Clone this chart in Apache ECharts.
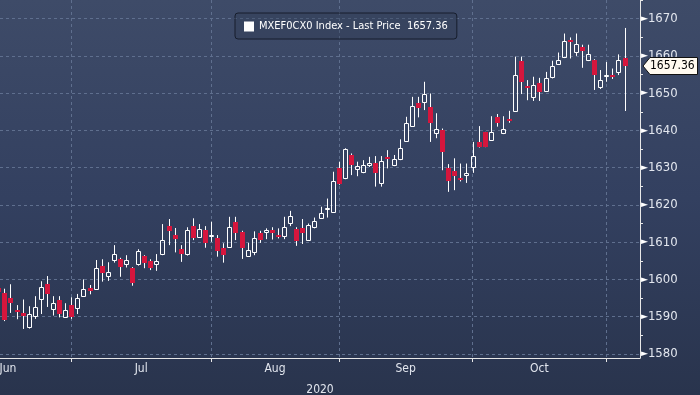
<!DOCTYPE html>
<html>
<head>
<meta charset="utf-8">
<script src="https://cdn.jsdelivr.net/npm/echarts@6/dist/echarts.min.js"></script>
<style>
html,body{margin:0;padding:0;}
#c{width:700px;height:395px;background:linear-gradient(to bottom,#3e4b68 0%,#334060 50%,#29344d 100%);}
</style>
</head>
<body>
<div id="c"></div>
<script>
// Month labels and the candle index where each month boundary falls (last trading day of month)
const monthLabels = ['Jun', 'Jul', 'Aug', 'Sep', 'Oct'];
const monthLabelPos = [1.6, 23.5, 45.5, 67, 89];
const monthBoundaryIdx = [12, 35, 56, 78, 100];
const yTicks = [1580, 1590, 1600, 1610, 1620, 1630, 1640, 1650, 1660, 1670];
const yMinorTicks = [1585, 1595, 1605, 1615, 1625, 1635, 1645, 1655, 1665, 1675];
const seriesName = 'MXEF0CX0 Index - Last Price';

const open = [1597.8,1596.4,1594.9,1591.9,1591.0,1587.3,1590.1,1594.8,1598.7,1592.0,
  1594.4,1590.0,1593.1,1592.3,1595.5,1597.6,1597.4,1603.6,1601.0,1605.2,
  1605.4,1604.1,1603.0,1604.1,1606.3,1604.9,1604.1,1606.8,1614.4,1612.0,
  1608.1,1606.7,1614.4,1611.4,1613.2,1611.8,1611.2,1608.5,1608.75,1615.4,
  1612.6,1606.25,1607.25,1612.4,1612.6,1613.2,1611.9,1611.7,1615.2,1613.6,
  1613.7,1610.7,1614.0,1616.6,1618.8,1618.15,1629.8,1627.2,1633.4,1629.6,
  1628.9,1630.7,1631.3,1625.9,1632.9,1630.7,1632.2,1637.2,1641.2,1647.4,
  1647.7,1646.3,1639.35,1640.1,1629.8,1629.15,1627.1,1628.0,1630.2,1636.9,
  1639.5,1637.4,1643.65,1639.2,1643.0,1645.25,1658.7,1651.9,1649.0,1652.7,
  1650.65,1654.3,1657.8,1659.6,1664.2,1661.1,1662.3,1658.8,1658.9,1651.7,
  1654.75,1655.0,1655.7,1659.3];
const close = [1596.6,1589.2,1593.6,1591.5,1590.2,1590.7,1592.5,1597.9,1596.1,1593.7,
  1590.7,1591.9,1589.8,1595.0,1597.3,1596.9,1603.0,1601.8,1602.0,1606.8,
  1603.4,1605.2,1599.1,1607.7,1604.3,1603.1,1604.9,1610.55,1613.05,1610.8,
  1606.8,1613.2,1611.2,1613.4,1609.7,1612.0,1607.7,1606.6,1614.0,1612.35,
  1608.5,1607.9,1611.0,1610.55,1613.2,1612.35,1611.3,1614.0,1617.0,1610.3,
  1612.35,1614.6,1615.7,1617.9,1619.2,1626.5,1625.6,1634.9,1630.7,1630.5,
  1630.7,1631.3,1628.6,1631.8,1632.2,1632.4,1635.4,1642.1,1646.5,1645.9,
  1649.75,1641.9,1640.35,1634.25,1626.5,1627.8,1626.8,1628.5,1633.1,1635.55,
  1635.6,1639.6,1642.05,1640.35,1642.6,1655.0,1652.95,1651.3,1652.2,1650.4,
  1653.95,1657.2,1658.9,1664.0,1663.7,1663.3,1661.4,1660.4,1654.8,1653.5,
  1655.0,1654.2,1658.9,1657.36];
const low = [1595.5,1588.8,1591.0,1589.3,1586.7,1586.8,1589.4,1590.7,1592.6,1590.3,
  1589.8,1589.8,1589.4,1590.7,1595.3,1596.0,1597.2,1599.4,1599.6,1604.5,
  1600.7,1603.2,1598.3,1603.7,1603.0,1602.5,1602.3,1606.5,1609.2,1607.25,
  1604.7,1606.4,1610.55,1611.2,1608.5,1610.1,1606.1,1604.5,1608.6,1610.55,
  1605.5,1606.1,1606.5,1609.8,1610.8,1610.7,1611.0,1610.8,1614.3,1609.0,
  1609.5,1610.6,1613.7,1616.5,1616.6,1617.9,1625.4,1626.9,1628.0,1627.7,
  1628.5,1630.2,1624.9,1624.9,1629.8,1630.4,1632.0,1637.0,1641.0,1643.5,
  1645.45,1636.9,1637.9,1629.3,1623.5,1623.95,1626.3,1625.9,1628.6,1635.4,
  1635.5,1637.3,1641.0,1639.0,1642.05,1645.0,1649.75,1648.1,1647.9,1647.9,
  1650.4,1653.95,1657.7,1659.4,1659.3,1660.0,1656.8,1658.6,1650.85,1651.1,
  1653.05,1653.8,1654.85,1645.2];
const high = [1598.5,1597.5,1598.7,1593.1,1594.6,1592.8,1595.5,1599.5,1600.9,1595.5,
  1595.5,1593.6,1595.2,1596.1,1600.0,1598.5,1605.2,1605.4,1604.6,1609.2,
  1605.8,1606.5,1603.3,1608.1,1606.5,1605.4,1606.8,1614.85,1616.2,1613.8,
  1609.2,1614.0,1616.4,1614.85,1614.3,1615.5,1611.9,1609.7,1616.8,1616.8,
  1613.05,1609.8,1612.9,1613.05,1613.7,1614.0,1613.7,1616.8,1618.4,1614.0,
  1616.2,1615.0,1616.6,1619.5,1621.7,1628.9,1631.6,1635.2,1633.8,1631.6,
  1632.0,1632.9,1633.1,1633.1,1634.7,1633.4,1637.6,1643.65,1649.0,1649.0,
  1653.05,1649.9,1644.6,1640.5,1630.95,1632.5,1631.1,1631.1,1636.9,1641.15,
  1639.6,1643.8,1644.4,1643.8,1645.25,1659.8,1659.8,1653.5,1654.4,1654.1,
  1655.7,1658.7,1660.9,1666.0,1664.95,1666.0,1663.0,1663.0,1659.1,1656.2,
  1658.35,1656.6,1660.4,1667.5];

const lastPrice = close[close.length - 1];
const FONT = '"Liberation Sans Narrow","DejaVu Sans Condensed","Liberation Sans",sans-serif';
const RED = '#d5163d';
const GRID = '#5f6f8e';

const data = open.map((o, i) => [i, o, close[i], low[i], high[i]]);

const chart = echarts.init(document.getElementById('c'), null, {renderer: 'canvas'});

function renderItem(params, api) {
  const x = api.value(0), o = api.value(1), c = api.value(2), l = api.value(3), h = api.value(4);
  const pO = api.coord([x, o]), pC = api.coord([x, c]);
  const pL = api.coord([x, l]), pH = api.coord([x, h]);
  const cx = Math.round(pO[0]);
  const wx = cx + 0.5;
  const up = c >= o;
  const children = [];
  if (up) {
    let top = Math.round(pC[1]) + 0.5, bot = Math.round(pO[1]) + 0.5;
    if (bot - top < 1) bot = top + 1;
    children.push({type: 'line', shape: {x1: wx, y1: pH[1], x2: wx, y2: top}, style: {stroke: '#ffffff', lineWidth: 1}});
    children.push({type: 'line', shape: {x1: wx, y1: bot, x2: wx, y2: pL[1]}, style: {stroke: '#ffffff', lineWidth: 1}});
    children.push({type: 'rect', shape: {x: cx - 1.5, y: top, width: 4, height: bot - top}, style: {fill: 'none', stroke: '#ffffff', lineWidth: 1}});
  } else {
    let top = Math.round(pO[1]), bot = Math.round(pC[1]);
    if (bot - top < 2) bot = top + 2;
    children.push({type: 'line', shape: {x1: wx, y1: pH[1], x2: wx, y2: pL[1]}, style: {stroke: '#ffffff', lineWidth: 1}});
    children.push({type: 'rect', shape: {x: cx - 2, y: top, width: 5, height: bot - top}, style: {fill: RED, stroke: null}});
  }
  return {type: 'group', children};
}

chart.setOption({
  backgroundColor: 'transparent',
  animation: false,
  textStyle: {fontFamily: FONT},
  grid: {left: 0, right: 60, top: 0, bottom: 37, containLabel: false, outerBoundsMode: 'none'},
  legend: {
    left: 235, top: 13,
    padding: [8, 9, 7, 9],
    borderColor: '#161d2c', borderWidth: 1, borderRadius: 3,
    backgroundColor: 'rgba(45,56,80,0.35)',
    itemWidth: 10, itemHeight: 10, itemGap: 5,
    data: [{name: seriesName, icon: 'rect', itemStyle: {color: '#ffffff', borderWidth: 0}}],
    formatter: name => name + '  ' + lastPrice.toFixed(2),
    textStyle: {color: '#ffffff', fontSize: 11, fontFamily: FONT}
  },
  xAxis: {
    type: 'value',
    min: 0.28, max: 105.54,
    name: '2020', nameLocation: 'middle', nameGap: 26,
    nameTextStyle: {color: '#e2e6ee', fontSize: 12, fontFamily: FONT},
    axisLine: {show: true, onZero: false, lineStyle: {color: '#e8e8e8', width: 1}},
    axisTick: {show: true, length: 4, customValues: monthBoundaryIdx, lineStyle: {color: '#e8e8e8'}},
    axisLabel: {
      show: true, customValues: monthLabelPos, margin: 5,
      color: '#e2e6ee', fontSize: 12, fontFamily: FONT,
      formatter: v => monthLabels[monthLabelPos.indexOf(v)] || ''
    },
    splitLine: {show: true, lineStyle: {color: GRID, type: [3, 3], width: 1}}
  },
  yAxis: [{
    type: 'value', position: 'right',
    min: 1578.9, max: 1675,
    axisLine: {show: true, lineStyle: {color: '#e8e8e8', width: 1}},
    axisTick: {show: false, customValues: yTicks},
    axisLabel: {
      show: true, customValues: yTicks, margin: 1,
      formatter: v => '{t|\u25BA}{v|' + v + '}',
      rich: {
        t: {color: '#ffffff', fontSize: 9, fontFamily: 'DejaVu Sans', verticalAlign: 'middle'},
        v: {color: '#e2e6ee', fontSize: 13, fontFamily: FONT, verticalAlign: 'middle'}
      }
    },
    splitLine: {show: true, lineStyle: {color: GRID, type: [3, 3], width: 1}}
  }, {
    type: 'value', position: 'right',
    min: 1578.9, max: 1675,
    axisLine: {show: false},
    axisTick: {show: true, length: 3, customValues: yMinorTicks, lineStyle: {color: '#e8e8e8'}},
    axisLabel: {show: false},
    splitLine: {show: false}
  }],
  series: [{
    name: seriesName,
    type: 'custom',
    renderItem: renderItem,
    clip: true,
    encode: {x: 0, y: [1, 2, 3, 4]},
    data: data
  }]
});

// last price tag on the right axis, positioned via the axis scale
const ty = Math.round(chart.convertToPixel({yAxisIndex: 0}, lastPrice));
const ax = 640;
chart.setOption({
  graphic: [{
    type: 'group',
    children: [{
      type: 'polygon',
      shape: {points: [[ax + 3, ty], [ax + 10, ty - 8.5], [697.5, ty - 8.5], [697.5, ty + 8.5], [ax + 10, ty + 8.5]]},
      style: {fill: '#fffaf0', stroke: '#111111', lineWidth: 1},
      z: 100
    }, {
      type: 'text',
      x: ax + 10, y: ty,
      style: {text: lastPrice.toFixed(2), fill: '#000000', font: '12px ' + FONT, textVerticalAlign: 'middle', verticalAlign: 'middle'},
      z: 101
    }]
  }]
});
</script>
</body>
</html>
